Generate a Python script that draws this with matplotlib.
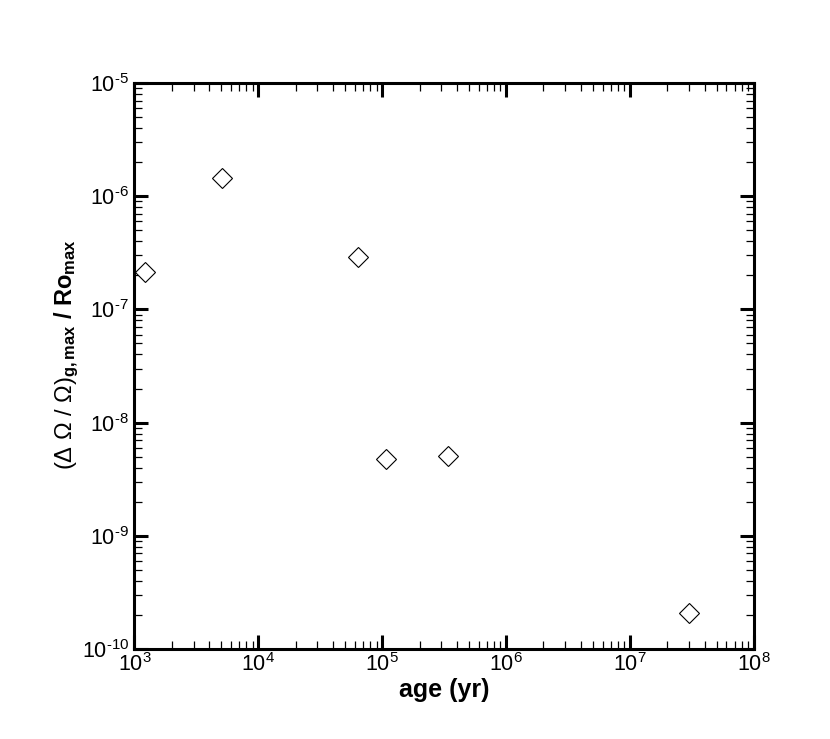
import matplotlib
matplotlib.use("Agg")
import math
import matplotlib.pyplot as plt
from matplotlib.ticker import LogLocator, NullFormatter, FuncFormatter

plt.rcParams['font.family'] = ['Liberation Sans', 'DejaVu Sans']
plt.rcParams['mathtext.fontset'] = 'custom'
plt.rcParams['mathtext.rm'] = 'Liberation Sans'
plt.rcParams['mathtext.it'] = 'Liberation Sans:italic'
plt.rcParams['mathtext.bf'] = 'Liberation Sans:bold'
plt.rcParams['axes.unicode_minus'] = False

# data
age_yr = [1.22e3, 5.05e3, 6.4e4, 1.08e5, 3.37e5, 3.0e7]
ratio = [2.15e-7, 1.44e-6, 2.92e-7, 4.74e-9, 5.07e-9, 2.07e-10]


def pow10(v, pos):
    e = int(round(math.log10(v)))
    if e < 0:
        return r'$10^{\text{-}%d}$' % (-e)
    return r'$10^{%d}$' % e


fig = plt.figure(figsize=(8.30, 7.39), dpi=100)
ax = fig.add_axes([0.162, 0.1218, 0.7464, 0.7659])

ax.plot(age_yr, ratio, linestyle='none', marker='D', markersize=10.5,
        markerfacecolor='white', markeredgecolor='black', markeredgewidth=0.8)

ax.set_xscale('log')
ax.set_yscale('log')
ax.set_xlim(1e3, 1e8)
ax.set_ylim(1e-10, 1e-5)

for s in ax.spines.values():
    s.set_linewidth(2.2)

ax.xaxis.set_major_locator(LogLocator(base=10, numticks=10))
ax.yaxis.set_major_locator(LogLocator(base=10, numticks=10))
ax.xaxis.set_minor_locator(LogLocator(base=10, subs=range(2, 10), numticks=20))
ax.yaxis.set_minor_locator(LogLocator(base=10, subs=range(2, 10), numticks=20))
ax.xaxis.set_major_formatter(FuncFormatter(pow10))
ax.yaxis.set_major_formatter(FuncFormatter(pow10))
ax.xaxis.set_minor_formatter(NullFormatter())
ax.yaxis.set_minor_formatter(NullFormatter())

ax.tick_params(which='both', direction='in', top=True, right=True)
ax.tick_params(which='major', length=10, width=2.2, labelsize=15.5)
ax.tick_params(axis='x', which='major', pad=3)
ax.tick_params(axis='y', which='major', pad=4)
ax.tick_params(which='minor', length=5.5, width=0.9)

ax.set_xlabel('age (yr)', fontsize=18, fontweight='bold', va='top')
ax.xaxis.set_label_coords(0.5, -0.051)
ax.set_ylabel(r'$(\Delta\ \Omega\ /\ \Omega)_{\mathbf{g,max}}\ \mathbf{/\ Ro_{max}}$',
              fontsize=17)
ax.yaxis.set_label_coords(-0.086, 0.52)

fig.savefig('out.png', dpi=100)
